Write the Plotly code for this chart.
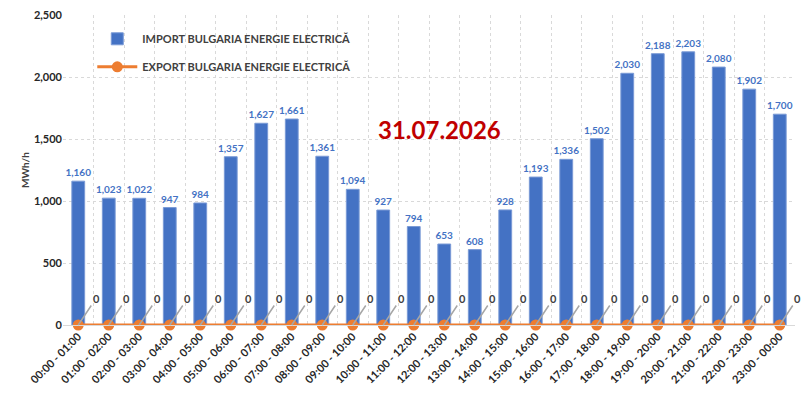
import plotly.graph_objects as go

hours = ["00:00 - 01:00", "01:00 - 02:00", "02:00 - 03:00", "03:00 - 04:00",
         "04:00 - 05:00", "05:00 - 06:00", "06:00 - 07:00", "07:00 - 08:00",
         "08:00 - 09:00", "09:00 - 10:00", "10:00 - 11:00", "11:00 - 12:00",
         "12:00 - 13:00", "13:00 - 14:00", "14:00 - 15:00", "15:00 - 16:00",
         "16:00 - 17:00", "17:00 - 18:00", "18:00 - 19:00", "19:00 - 20:00",
         "20:00 - 21:00", "21:00 - 22:00", "22:00 - 23:00", "23:00 - 00:00"]
import_mwh = [1160, 1023, 1022, 947, 984, 1357, 1627, 1661, 1361, 1094, 927, 794,
              653, 608, 928, 1193, 1336, 1502, 2030, 2188, 2203, 2080, 1902, 1700]
export_mwh = [0] * 24
date_label = "31.07.2026"

font_family = "Lato, Noto Sans, sans-serif"
dark = "#404040"

fig = go.Figure()
fig.add_trace(go.Bar(
    x=hours, y=import_mwh, name="IMPORT BULGARIA ENERGIE ELECTRICĂ",
    legendgroup="imp",
    marker=dict(color="#4472C4", line=dict(color="#7A9AD6", width=1)),
    width=0.42,
    text=[f"{v:,}" for v in import_mwh], textposition="outside",
    constraintext="none",
    textfont=dict(color="#4472C4", size=10, family=font_family, weight="bold"),
    cliponaxis=False,
))
fig.add_trace(go.Scatter(
    x=hours, y=export_mwh, name="EXPORT BULGARIA ENERGIE ELECTRICĂ",
    legendgroup="exp",
    mode="lines+markers",
    line=dict(color="#ED7D31", width=3),
    marker=dict(color="#ED7D31", size=11),
    cliponaxis=False,
))

# zero labels with leader lines for the export series
for h, v in zip(hours, export_mwh):
    fig.add_annotation(
        x=h, y=v, text=f"{v:,}", showarrow=True, arrowhead=0,
        arrowcolor="#A6A6A6", arrowwidth=1.5, ax=18, ay=-27,
        font=dict(color=dark, size=11, family=font_family, weight="bold"),
    )

fig.add_annotation(
    x=0.515, y=0.684, xref="paper", yref="paper", text=date_label, showarrow=False,
    font=dict(color="#C00000", size=24, family=font_family, weight="bold"),
)

fig.update_layout(
    width=812, height=400,
    margin=dict(l=55, r=25, t=7, b=83),
    plot_bgcolor="white", paper_bgcolor="white",
    font=dict(family=font_family, color=dark),
    bargap=0.6,
    showlegend=True,
    legend=dict(
        x=0.04, y=0.97, xanchor="left", yanchor="top",
        bgcolor="rgba(0,0,0,0)", tracegroupgap=9,
        font=dict(size=11, color=dark, family=font_family, weight="bold"),
        itemwidth=40,
    ),
)
fig.update_xaxes(
    type="category", range=[-0.5, len(hours) - 0.5],
    tickangle=-45, tickson="boundaries", automargin=False,
    showgrid=True, gridcolor="#D9D9D9", griddash="dot",
    ticks="", showline=True, linecolor="#D9D9D9",
    tickfont=dict(size=11, color="#262626", family=font_family, weight="bold"),
)
fig.update_yaxes(
    range=[0, 2500], dtick=500, tickformat=",", automargin=False,
    ticklabeloverflow="allow",
    showgrid=True, gridcolor="#D9D9D9", griddash="dot",
    zeroline=False, ticks="",
    title=dict(text="MWh/h", font=dict(size=10, color=dark, family=font_family, weight="bold"), standoff=2),
    tickfont=dict(size=11, color="#262626", family=font_family, weight="bold"),
)

fig.write_html("out.html")
